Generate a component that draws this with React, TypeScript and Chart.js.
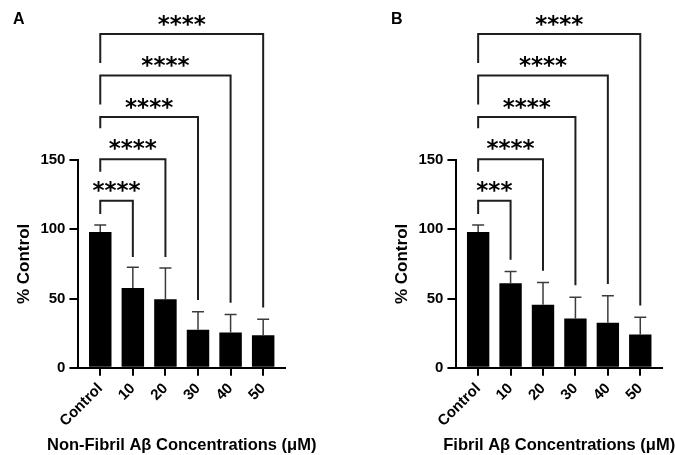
import React, { useEffect, useRef } from 'react';
import { Chart, registerables } from 'chart.js';

Chart.register(...registerables);

// ---------- data ----------
const categories = ['Control', '10', '20', '30', '40', '50'];
const yTickValues = [0, 50, 100, 150];

const nonFibrilMeans = [98, 57.5, 49.5, 27.5, 25.5, 23.5];
const nonFibrilErrors = [5, 15, 22.5, 13, 13, 11.5];
const nonFibrilStars = ['****', '****', '****', '****', '****'];
const nonFibrilBracketRightEnds = [80, 80, 49, 47, 43.5];

const fibrilMeans = [98, 61, 45.5, 35.5, 32.5, 24];
const fibrilErrors = [5, 8.5, 16, 15.5, 19.5, 12.5];
const fibrilStars = ['***', '****', '****', '****', '****'];
const fibrilBracketRightEnds = [78, 70, 59.5, 60.5, 45];

// comparisons: Control vs each concentration (bracket heights in y units)
const bracketTops = [120.5, 150.5, 181, 211, 241];
const bracketLeftEnds = [111, 141.5, 173, 190, 220];
const starLevels = [131, 161.5, 191, 221, 251];

const FONT = '"Liberation Sans", Arial, Helvetica, sans-serif';
const X_TITLE_SIZE = 16.5;

type Panel = {
  means: number[];
  errors: number[];
  stars: string[];
  rightEnds: number[];
  xTitle: string;
  padRight: number;
};

function makeConfig(p: Panel): any {
  const annotations = {
    id: 'annotations',
    afterDatasetsDraw(chart: any) {
      const ctx: CanvasRenderingContext2D = chart.ctx;
      const xs = chart.scales.x;
      const ys = chart.scales.y;
      const meta = chart.getDatasetMeta(0);
      ctx.save();
      // error bars (upper only)
      ctx.strokeStyle = '#3c3c3c';
      ctx.lineWidth = 1.5;
      p.means.forEach((m, i) => {
        const el = meta.data[i];
        const x = el.x;
        const y0 = ys.getPixelForValue(m);
        const y1 = ys.getPixelForValue(m + p.errors[i]);
        ctx.beginPath();
        ctx.moveTo(x, y0);
        ctx.lineTo(x, y1);
        ctx.moveTo(x - 6, y1);
        ctx.lineTo(x + 6, y1);
        ctx.stroke();
      });
      // significance brackets
      ctx.strokeStyle = '#1e1e1e';
      ctx.lineWidth = 2;
      ctx.lineJoin = 'miter';
      const xL = xs.getPixelForValue(0);
      bracketTops.forEach((top, k) => {
        const xR = xs.getPixelForValue(k + 1);
        ctx.beginPath();
        ctx.moveTo(xL, ys.getPixelForValue(bracketLeftEnds[k]));
        ctx.lineTo(xL, ys.getPixelForValue(top));
        ctx.lineTo(xR, ys.getPixelForValue(top));
        ctx.lineTo(xR, ys.getPixelForValue(p.rightEnds[k]));
        ctx.stroke();
        // stars
        ctx.font = 'bold 23px "DejaVu Sans", sans-serif';
        ctx.fillStyle = '#000';
        ctx.textAlign = 'center';
        ctx.textBaseline = 'alphabetic';
        const txt = p.stars[k];
        const mt = ctx.measureText(txt);
        const cy = ys.getPixelForValue(starLevels[k]);
        const off = (mt.actualBoundingBoxAscent - mt.actualBoundingBoxDescent) / 2;
        ctx.fillText(txt, (xL + xR) / 2, cy + off);
      });
      ctx.restore();
    },
    afterDraw(chart: any) {
      // x-axis title drawn without Chart.js' maxWidth compression
      const ctx: CanvasRenderingContext2D = chart.ctx;
      const xs = chart.scales.x;
      const area = chart.chartArea;
      ctx.save();
      ctx.font = `bold ${X_TITLE_SIZE}px ${FONT}`;
      ctx.fillStyle = '#000';
      ctx.textAlign = 'center';
      ctx.textBaseline = 'middle';
      ctx.fillText(p.xTitle, (area.left + area.right) / 2, xs.bottom - (X_TITLE_SIZE * 1.2) / 2);
      ctx.restore();
    },
  };

  return {
    type: 'bar',
    data: {
      datasets: [
        {
          data: p.means.map((v, i) => ({ x: i, y: v })),
          backgroundColor: '#000',
          borderWidth: 0,
          barPercentage: 0.69,
          categoryPercentage: 1,
        },
      ],
    },
    options: {
      animation: false,
      responsive: false,
      maintainAspectRatio: false,
      layout: { padding: { top: 160, left: 10, right: p.padRight, bottom: 0 } },
      plugins: {
        legend: { display: false },
        tooltip: { enabled: false },
        title: { display: false },
      },
      scales: {
        x: {
          type: 'linear',
          min: -0.67,
          max: 5.67,
          offset: false,
          afterBuildTicks: (scale: any) => {
            scale.ticks = categories.map((_, i) => ({ value: i }));
          },
          ticks: {
            callback: (v: number) => categories[v],
            minRotation: 45,
            maxRotation: 45,
            autoSkip: false,
            color: '#000',
            padding: 4,
            font: { family: FONT, size: 15, weight: 'bold' },
          },
          grid: {
            offset: false,
            drawOnChartArea: false,
            drawTicks: true,
            tickLength: 8,
            color: '#000',
            lineWidth: 2,
          },
          border: { display: true, color: '#000', width: 2 },
          title: {
            display: true,
            text: p.xTitle,
            color: 'rgba(0,0,0,0)',
            font: { family: FONT, size: X_TITLE_SIZE, weight: 'bold' },
            padding: { top: 1, bottom: 0 },
          },
        },
        y: {
          min: 0,
          max: 150,
          afterBuildTicks: (scale: any) => {
            scale.ticks = yTickValues.map((v) => ({ value: v }));
          },
          ticks: {
            color: '#000',
            padding: 4,
            font: { family: FONT, size: 15, weight: 'bold' },
          },
          grid: {
            drawOnChartArea: false,
            drawTicks: true,
            tickLength: 9,
            color: '#000',
            lineWidth: 2,
          },
          border: { display: true, color: '#000', width: 2 },
          title: {
            display: true,
            text: '% Control',
            color: '#000',
            font: { family: FONT, size: 17, weight: 'bold' },
            padding: { top: 4, bottom: 2 },
          },
        },
      },
    },
    plugins: [annotations],
  };
}

function PanelChart({ panel, width, left }: { panel: Panel; width: number; left: number }) {
  const ref = useRef<HTMLCanvasElement | null>(null);
  useEffect(() => {
    if (!ref.current) return;
    const chart = new Chart(ref.current, makeConfig(panel));
    return () => chart.destroy();
  }, [panel]);
  return (
    <canvas
      ref={ref}
      width={width}
      height={455}
      style={{ position: 'absolute', left, top: 0, width, height: 455 }}
    />
  );
}

const leftPanel: Panel = {
  means: nonFibrilMeans,
  errors: nonFibrilErrors,
  stars: nonFibrilStars,
  rightEnds: nonFibrilBracketRightEnds,
  xTitle: 'Non-Fibril A\u03B2 Concentrations (\u03BCM)',
  padRight: 93,
};

const rightPanel: Panel = {
  means: fibrilMeans,
  errors: fibrilErrors,
  stars: fibrilStars,
  rightEnds: fibrilBracketRightEnds,
  xTitle: 'Fibril A\u03B2 Concentrations (\u03BCM)',
  padRight: 13,
};

const labelStyle: React.CSSProperties = {
  position: 'absolute',
  top: 11,
  fontFamily: FONT,
  fontWeight: 'bold',
  fontSize: 16,
  lineHeight: '16px',
  color: '#000',
};

export default function App() {
  return (
    <div
      style={{
        position: 'fixed',
        left: 0,
        top: 0,
        width: 675,
        height: 455,
        background: '#fff',
        overflow: 'hidden',
      }}
    >
      <PanelChart panel={leftPanel} width={378} left={0} />
      <PanelChart panel={rightPanel} width={297} left={378} />
      <div style={{ ...labelStyle, left: 13 }}>A</div>
      <div style={{ ...labelStyle, left: 391 }}>B</div>
    </div>
  );
}
